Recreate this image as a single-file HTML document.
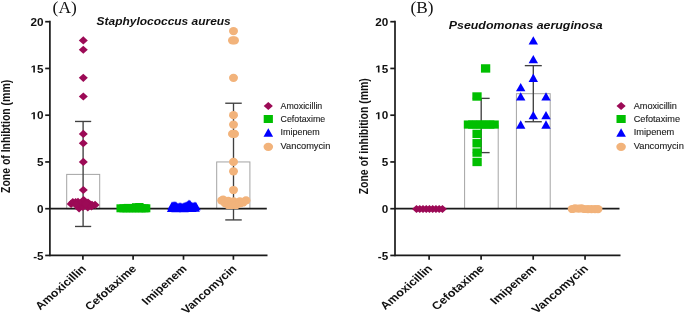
<!DOCTYPE html>
<html><head><meta charset="utf-8"><style>
html,body{margin:0;padding:0;background:#fff;}
svg{display:block;filter:blur(0.3px);}
</style></head><body>
<svg width="685" height="314" viewBox="0 0 685 314">
<rect width="685" height="314" fill="#fff"/>
<rect x="66.70" y="174.39" width="33.00" height="34.31" fill="none" stroke="#a4a4a4" stroke-width="1"/>
<rect x="216.70" y="161.95" width="33.20" height="46.75" fill="none" stroke="#a4a4a4" stroke-width="1"/>
<rect x="464.60" y="125.48" width="33.60" height="83.22" fill="none" stroke="#a4a4a4" stroke-width="1"/>
<rect x="516.40" y="93.69" width="33.80" height="115.00" fill="none" stroke="#a4a4a4" stroke-width="1"/>
<line x1="49.90" y1="20.85" x2="49.90" y2="256.30" stroke="#1a1a1a" stroke-width="1.7"/>
<line x1="45.20" y1="21.70" x2="49.90" y2="21.70" stroke="#1a1a1a" stroke-width="1.7"/>
<text transform="translate(43.60,25.80) scale(1.150,1)" font-family="Liberation Sans, sans-serif" font-size="10.2" font-weight="bold" font-style="normal" text-anchor="end" dominant-baseline="auto" fill="#111">20</text>
<line x1="45.20" y1="68.45" x2="49.90" y2="68.45" stroke="#1a1a1a" stroke-width="1.7"/>
<text transform="translate(43.60,72.55) scale(1.150,1)" font-family="Liberation Sans, sans-serif" font-size="10.2" font-weight="bold" font-style="normal" text-anchor="end" dominant-baseline="auto" fill="#111">5</text>
<path transform="translate(43.60,72.55) scale(1.15,1) translate(-11.346,0) scale(0.00498,-0.00498)" d="M478 0V1170L140 959V1180L493 1409H759V0Z" fill="#111"/>
<line x1="45.20" y1="115.20" x2="49.90" y2="115.20" stroke="#1a1a1a" stroke-width="1.7"/>
<text transform="translate(43.60,119.30) scale(1.150,1)" font-family="Liberation Sans, sans-serif" font-size="10.2" font-weight="bold" font-style="normal" text-anchor="end" dominant-baseline="auto" fill="#111">0</text>
<path transform="translate(43.60,119.30) scale(1.15,1) translate(-11.346,0) scale(0.00498,-0.00498)" d="M478 0V1170L140 959V1180L493 1409H759V0Z" fill="#111"/>
<line x1="45.20" y1="161.95" x2="49.90" y2="161.95" stroke="#1a1a1a" stroke-width="1.7"/>
<text transform="translate(43.60,166.05) scale(1.150,1)" font-family="Liberation Sans, sans-serif" font-size="10.2" font-weight="bold" font-style="normal" text-anchor="end" dominant-baseline="auto" fill="#111">5</text>
<line x1="45.20" y1="208.70" x2="49.90" y2="208.70" stroke="#1a1a1a" stroke-width="1.7"/>
<text transform="translate(43.60,212.80) scale(1.150,1)" font-family="Liberation Sans, sans-serif" font-size="10.2" font-weight="bold" font-style="normal" text-anchor="end" dominant-baseline="auto" fill="#111">0</text>
<line x1="45.20" y1="255.45" x2="49.90" y2="255.45" stroke="#1a1a1a" stroke-width="1.7"/>
<text transform="translate(43.60,259.55) scale(1.150,1)" font-family="Liberation Sans, sans-serif" font-size="10.2" font-weight="bold" font-style="normal" text-anchor="end" dominant-baseline="auto" fill="#111">-5</text>
<line x1="49.90" y1="208.70" x2="266.80" y2="208.70" stroke="#1a1a1a" stroke-width="1.7"/>
<line x1="49.90" y1="255.45" x2="267.50" y2="255.45" stroke="#1a1a1a" stroke-width="1.7"/>
<line x1="82.90" y1="255.45" x2="82.90" y2="259.75" stroke="#1a1a1a" stroke-width="1.7"/>
<text transform="translate(86.95,269.45) scale(1.136,1) rotate(-45)" font-family="Liberation Sans, sans-serif" font-size="10.9" font-weight="bold" font-style="normal" text-anchor="end" dominant-baseline="auto" fill="#111">Amoxicillin</text>
<line x1="133.10" y1="255.45" x2="133.10" y2="259.75" stroke="#1a1a1a" stroke-width="1.7"/>
<text transform="translate(137.15,269.45) scale(1.136,1) rotate(-45)" font-family="Liberation Sans, sans-serif" font-size="10.9" font-weight="bold" font-style="normal" text-anchor="end" dominant-baseline="auto" fill="#111">Cefotaxime</text>
<line x1="183.50" y1="255.45" x2="183.50" y2="259.75" stroke="#1a1a1a" stroke-width="1.7"/>
<text transform="translate(187.55,269.45) scale(1.136,1) rotate(-45)" font-family="Liberation Sans, sans-serif" font-size="10.9" font-weight="bold" font-style="normal" text-anchor="end" dominant-baseline="auto" fill="#111">Imipenem</text>
<line x1="233.40" y1="255.45" x2="233.40" y2="259.75" stroke="#1a1a1a" stroke-width="1.7"/>
<text transform="translate(237.45,269.45) scale(1.136,1) rotate(-45)" font-family="Liberation Sans, sans-serif" font-size="10.9" font-weight="bold" font-style="normal" text-anchor="end" dominant-baseline="auto" fill="#111">Vancomycin</text>
<text transform="translate(10.00,136.40) scale(1.150,1) rotate(-90)" font-family="Liberation Sans, sans-serif" font-size="10.45" font-weight="bold" font-style="normal" text-anchor="middle" dominant-baseline="auto" fill="#111">Zone of Inhibtion (mm)</text>
<text transform="translate(280.60,108.60) scale(0.980,1)" font-family="Liberation Sans, sans-serif" font-size="9.0" font-weight="normal" font-style="normal" text-anchor="start" dominant-baseline="auto" fill="#1a1a1a" stroke="#1a1a1a" stroke-width="0.12">Amoxicillin</text>
<text transform="translate(280.60,121.60) scale(0.980,1)" font-family="Liberation Sans, sans-serif" font-size="9.0" font-weight="normal" font-style="normal" text-anchor="start" dominant-baseline="auto" fill="#1a1a1a" stroke="#1a1a1a" stroke-width="0.12">Cefotaxime</text>
<text transform="translate(280.60,135.10) scale(0.992,1)" font-family="Liberation Sans, sans-serif" font-size="9.0" font-weight="normal" font-style="normal" text-anchor="start" dominant-baseline="auto" fill="#1a1a1a" stroke="#1a1a1a" stroke-width="0.12">Imipenem</text>
<text transform="translate(280.60,149.40) scale(1.029,1)" font-family="Liberation Sans, sans-serif" font-size="9.0" font-weight="normal" font-style="normal" text-anchor="start" dominant-baseline="auto" fill="#1a1a1a" stroke="#1a1a1a" stroke-width="0.12">Vancomycin</text>
<line x1="395.00" y1="20.85" x2="395.00" y2="256.30" stroke="#1a1a1a" stroke-width="1.7"/>
<line x1="390.30" y1="21.70" x2="395.00" y2="21.70" stroke="#1a1a1a" stroke-width="1.7"/>
<text transform="translate(388.20,25.80) scale(1.150,1)" font-family="Liberation Sans, sans-serif" font-size="10.2" font-weight="bold" font-style="normal" text-anchor="end" dominant-baseline="auto" fill="#111">20</text>
<line x1="390.30" y1="68.45" x2="395.00" y2="68.45" stroke="#1a1a1a" stroke-width="1.7"/>
<text transform="translate(388.20,72.55) scale(1.150,1)" font-family="Liberation Sans, sans-serif" font-size="10.2" font-weight="bold" font-style="normal" text-anchor="end" dominant-baseline="auto" fill="#111">5</text>
<path transform="translate(388.20,72.55) scale(1.15,1) translate(-11.346,0) scale(0.00498,-0.00498)" d="M478 0V1170L140 959V1180L493 1409H759V0Z" fill="#111"/>
<line x1="390.30" y1="115.20" x2="395.00" y2="115.20" stroke="#1a1a1a" stroke-width="1.7"/>
<text transform="translate(388.20,119.30) scale(1.150,1)" font-family="Liberation Sans, sans-serif" font-size="10.2" font-weight="bold" font-style="normal" text-anchor="end" dominant-baseline="auto" fill="#111">0</text>
<path transform="translate(388.20,119.30) scale(1.15,1) translate(-11.346,0) scale(0.00498,-0.00498)" d="M478 0V1170L140 959V1180L493 1409H759V0Z" fill="#111"/>
<line x1="390.30" y1="161.95" x2="395.00" y2="161.95" stroke="#1a1a1a" stroke-width="1.7"/>
<text transform="translate(388.20,166.05) scale(1.150,1)" font-family="Liberation Sans, sans-serif" font-size="10.2" font-weight="bold" font-style="normal" text-anchor="end" dominant-baseline="auto" fill="#111">5</text>
<line x1="390.30" y1="208.70" x2="395.00" y2="208.70" stroke="#1a1a1a" stroke-width="1.7"/>
<text transform="translate(388.20,212.80) scale(1.150,1)" font-family="Liberation Sans, sans-serif" font-size="10.2" font-weight="bold" font-style="normal" text-anchor="end" dominant-baseline="auto" fill="#111">0</text>
<line x1="390.30" y1="255.45" x2="395.00" y2="255.45" stroke="#1a1a1a" stroke-width="1.7"/>
<text transform="translate(388.20,259.55) scale(1.150,1)" font-family="Liberation Sans, sans-serif" font-size="10.2" font-weight="bold" font-style="normal" text-anchor="end" dominant-baseline="auto" fill="#111">-5</text>
<line x1="395.00" y1="208.70" x2="619.50" y2="208.70" stroke="#1a1a1a" stroke-width="1.7"/>
<line x1="395.00" y1="255.45" x2="620.50" y2="255.45" stroke="#1a1a1a" stroke-width="1.7"/>
<line x1="429.10" y1="255.45" x2="429.10" y2="259.75" stroke="#1a1a1a" stroke-width="1.7"/>
<text transform="translate(433.10,269.30) scale(1.168,1) rotate(-45)" font-family="Liberation Sans, sans-serif" font-size="10.87" font-weight="bold" font-style="normal" text-anchor="end" dominant-baseline="auto" fill="#111">Amoxicillin</text>
<line x1="481.10" y1="255.45" x2="481.10" y2="259.75" stroke="#1a1a1a" stroke-width="1.7"/>
<text transform="translate(485.10,269.30) scale(1.168,1) rotate(-45)" font-family="Liberation Sans, sans-serif" font-size="10.87" font-weight="bold" font-style="normal" text-anchor="end" dominant-baseline="auto" fill="#111">Cefotaxime</text>
<line x1="533.20" y1="255.45" x2="533.20" y2="259.75" stroke="#1a1a1a" stroke-width="1.7"/>
<text transform="translate(537.20,269.30) scale(1.168,1) rotate(-45)" font-family="Liberation Sans, sans-serif" font-size="10.87" font-weight="bold" font-style="normal" text-anchor="end" dominant-baseline="auto" fill="#111">Imipenem</text>
<line x1="585.05" y1="255.45" x2="585.05" y2="259.75" stroke="#1a1a1a" stroke-width="1.7"/>
<text transform="translate(589.05,269.30) scale(1.168,1) rotate(-45)" font-family="Liberation Sans, sans-serif" font-size="10.87" font-weight="bold" font-style="normal" text-anchor="end" dominant-baseline="auto" fill="#111">Vancomycin</text>
<text transform="translate(368.00,136.30) scale(1.200,1) rotate(-90)" font-family="Liberation Sans, sans-serif" font-size="10.45" font-weight="bold" font-style="normal" text-anchor="middle" dominant-baseline="auto" fill="#111">Zone of inhibition (mm)</text>
<text transform="translate(633.70,108.60) scale(0.975,1)" font-family="Liberation Sans, sans-serif" font-size="9.4" font-weight="normal" font-style="normal" text-anchor="start" dominant-baseline="auto" fill="#1a1a1a" stroke="#1a1a1a" stroke-width="0.12">Amoxicillin</text>
<text transform="translate(633.70,121.60) scale(0.975,1)" font-family="Liberation Sans, sans-serif" font-size="9.4" font-weight="normal" font-style="normal" text-anchor="start" dominant-baseline="auto" fill="#1a1a1a" stroke="#1a1a1a" stroke-width="0.12">Cefotaxime</text>
<text transform="translate(633.70,135.10) scale(0.985,1)" font-family="Liberation Sans, sans-serif" font-size="9.4" font-weight="normal" font-style="normal" text-anchor="start" dominant-baseline="auto" fill="#1a1a1a" stroke="#1a1a1a" stroke-width="0.12">Imipenem</text>
<text transform="translate(633.70,149.40) scale(0.994,1)" font-family="Liberation Sans, sans-serif" font-size="9.4" font-weight="normal" font-style="normal" text-anchor="start" dominant-baseline="auto" fill="#1a1a1a" stroke="#1a1a1a" stroke-width="0.12">Vancomycin</text>
<text transform="translate(52.60,12.50) scale(0.990,1)" font-family="Liberation Serif, serif" font-size="17.6" font-weight="normal" font-style="normal" text-anchor="start" dominant-baseline="auto" fill="#111">(A)</text>
<text transform="translate(410.50,12.80) scale(0.990,1)" font-family="Liberation Serif, serif" font-size="17.4" font-weight="normal" font-style="normal" text-anchor="start" dominant-baseline="auto" fill="#111">(B)</text>
<text transform="translate(96.60,25.40) scale(1.067,1)" font-family="Liberation Sans, sans-serif" font-size="11.2" font-weight="bold" font-style="italic" text-anchor="start" dominant-baseline="auto" fill="#111">Staphylococcus aureus</text>
<text transform="translate(448.80,28.90) scale(1.162,1)" font-family="Liberation Sans, sans-serif" font-size="10.65" font-weight="bold" font-style="italic" text-anchor="start" dominant-baseline="auto" fill="#111">Pseudomonas aeruginosa</text>
<line x1="83.10" y1="121.46" x2="83.10" y2="226.46" stroke="#404040" stroke-width="1.35"/>
<line x1="75.00" y1="121.46" x2="91.20" y2="121.46" stroke="#404040" stroke-width="1.35"/>
<line x1="75.00" y1="226.46" x2="91.20" y2="226.46" stroke="#404040" stroke-width="1.35"/>
<line x1="233.50" y1="103.23" x2="233.50" y2="219.92" stroke="#404040" stroke-width="1.35"/>
<line x1="225.25" y1="103.23" x2="241.75" y2="103.23" stroke="#404040" stroke-width="1.35"/>
<line x1="225.25" y1="219.92" x2="241.75" y2="219.92" stroke="#404040" stroke-width="1.35"/>
<line x1="481.20" y1="98.37" x2="481.20" y2="152.60" stroke="#404040" stroke-width="1.35"/>
<line x1="472.75" y1="98.37" x2="489.65" y2="98.37" stroke="#404040" stroke-width="1.35"/>
<line x1="472.75" y1="152.60" x2="489.65" y2="152.60" stroke="#404040" stroke-width="1.35"/>
<line x1="533.30" y1="65.64" x2="533.30" y2="121.74" stroke="#404040" stroke-width="1.35"/>
<line x1="524.80" y1="65.64" x2="541.80" y2="65.64" stroke="#404040" stroke-width="1.35"/>
<line x1="524.80" y1="121.74" x2="541.80" y2="121.74" stroke="#404040" stroke-width="1.35"/>
<path d="M78.80 40.40L83.30 36.30L87.80 40.40L83.30 44.50Z" fill="#9c0a56"/>
<path d="M78.80 49.75L83.30 45.65L87.80 49.75L83.30 53.85Z" fill="#9c0a56"/>
<path d="M78.80 77.80L83.30 73.70L87.80 77.80L83.30 81.90Z" fill="#9c0a56"/>
<path d="M78.80 96.50L83.30 92.40L87.80 96.50L83.30 100.60Z" fill="#9c0a56"/>
<path d="M78.80 133.90L83.30 129.80L87.80 133.90L83.30 138.00Z" fill="#9c0a56"/>
<path d="M78.80 143.25L83.30 139.15L87.80 143.25L83.30 147.35Z" fill="#9c0a56"/>
<path d="M78.80 161.95L83.30 157.85L87.80 161.95L83.30 166.05Z" fill="#9c0a56"/>
<path d="M78.80 190.00L83.30 185.90L87.80 190.00L83.30 194.10Z" fill="#9c0a56"/>
<path d="M66.60 203.90L71.10 199.80L75.60 203.90L71.10 208.00Z" fill="#9c0a56"/>
<path d="M68.30 202.20L72.80 198.10L77.30 202.20L72.80 206.30Z" fill="#9c0a56"/>
<path d="M71.10 202.20L75.60 198.10L80.10 202.20L75.60 206.30Z" fill="#9c0a56"/>
<path d="M73.50 201.90L78.00 197.80L82.50 201.90L78.00 206.00Z" fill="#9c0a56"/>
<path d="M79.10 200.10L83.60 196.00L88.10 200.10L83.60 204.20Z" fill="#9c0a56"/>
<path d="M83.50 202.50L88.00 198.40L92.50 202.50L88.00 206.60Z" fill="#9c0a56"/>
<path d="M87.50 204.80L92.00 200.70L96.50 204.80L92.00 208.90Z" fill="#9c0a56"/>
<path d="M90.60 204.90L95.10 200.80L99.60 204.90L95.10 209.00Z" fill="#9c0a56"/>
<path d="M74.60 208.30L79.10 204.20L83.60 208.30L79.10 212.40Z" fill="#9c0a56"/>
<path d="M78.40 206.90L82.90 202.80L87.40 206.90L82.90 211.00Z" fill="#9c0a56"/>
<path d="M83.30 207.30L87.80 203.20L92.30 207.30L87.80 211.40Z" fill="#9c0a56"/>
<path d="M75.50 203.50L80.00 199.40L84.50 203.50L80.00 207.60Z" fill="#9c0a56"/>
<path d="M79.50 203.50L84.00 199.40L88.50 203.50L84.00 207.60Z" fill="#9c0a56"/>
<path d="M71.50 205.00L76.00 200.90L80.50 205.00L76.00 209.10Z" fill="#9c0a56"/>
<path d="M85.50 204.50L90.00 200.40L94.50 204.50L90.00 208.60Z" fill="#9c0a56"/>
<path d="M81.50 204.00L86.00 199.90L90.50 204.00L86.00 208.10Z" fill="#9c0a56"/>
<path d="M87.00 206.50L91.50 202.40L96.00 206.50L91.50 210.60Z" fill="#9c0a56"/>
<rect x="116.45" y="204.30" width="8.30" height="8.00" fill="#00bf00"/>
<rect x="119.35" y="204.30" width="8.30" height="8.00" fill="#00bf00"/>
<rect x="122.35" y="204.30" width="8.30" height="8.00" fill="#00bf00"/>
<rect x="125.35" y="204.30" width="8.30" height="8.00" fill="#00bf00"/>
<rect x="128.35" y="204.30" width="8.30" height="8.00" fill="#00bf00"/>
<rect x="131.35" y="204.30" width="8.30" height="8.00" fill="#00bf00"/>
<rect x="134.35" y="204.30" width="8.30" height="8.00" fill="#00bf00"/>
<rect x="137.35" y="204.30" width="8.30" height="8.00" fill="#00bf00"/>
<rect x="140.35" y="204.30" width="8.30" height="8.00" fill="#00bf00"/>
<rect x="142.05" y="204.30" width="8.30" height="8.00" fill="#00bf00"/>
<rect x="131.95" y="203.20" width="8.30" height="8.00" fill="#00bf00"/>
<rect x="135.25" y="203.00" width="8.30" height="8.00" fill="#00bf00"/>
<rect x="123.85" y="203.90" width="8.30" height="8.00" fill="#00bf00"/>
<path d="M167.30 209.90L172.00 201.60L176.70 209.90Z" fill="#0000ff"/>
<path d="M168.30 209.70L173.00 201.40L177.70 209.70Z" fill="#0000ff"/>
<path d="M169.30 209.60L174.00 201.30L178.70 209.60Z" fill="#0000ff"/>
<path d="M170.30 209.60L175.00 201.30L179.70 209.60Z" fill="#0000ff"/>
<path d="M171.30 209.80L176.00 201.50L180.70 209.80Z" fill="#0000ff"/>
<path d="M172.30 210.70L177.00 202.40L181.70 210.70Z" fill="#0000ff"/>
<path d="M173.30 211.30L178.00 203.00L182.70 211.30Z" fill="#0000ff"/>
<path d="M174.30 210.90L179.00 202.60L183.70 210.90Z" fill="#0000ff"/>
<path d="M175.30 210.50L180.00 202.20L184.70 210.50Z" fill="#0000ff"/>
<path d="M176.30 210.80L181.00 202.50L185.70 210.80Z" fill="#0000ff"/>
<path d="M177.30 211.20L182.00 202.90L186.70 211.20Z" fill="#0000ff"/>
<path d="M178.30 211.00L183.00 202.70L187.70 211.00Z" fill="#0000ff"/>
<path d="M179.30 210.60L184.00 202.30L188.70 210.60Z" fill="#0000ff"/>
<path d="M180.30 210.30L185.00 202.00L189.70 210.30Z" fill="#0000ff"/>
<path d="M181.30 209.90L186.00 201.60L190.70 209.90Z" fill="#0000ff"/>
<path d="M182.30 209.60L187.00 201.30L191.70 209.60Z" fill="#0000ff"/>
<path d="M183.30 208.80L188.00 200.50L192.70 208.80Z" fill="#0000ff"/>
<path d="M184.30 207.90L189.00 199.60L193.70 207.90Z" fill="#0000ff"/>
<path d="M185.30 208.30L190.00 200.00L194.70 208.30Z" fill="#0000ff"/>
<path d="M186.30 209.70L191.00 201.40L195.70 209.70Z" fill="#0000ff"/>
<path d="M187.30 210.40L192.00 202.10L196.70 210.40Z" fill="#0000ff"/>
<path d="M188.30 210.60L193.00 202.30L197.70 210.60Z" fill="#0000ff"/>
<path d="M189.30 210.30L194.00 202.00L198.70 210.30Z" fill="#0000ff"/>
<path d="M190.30 209.90L195.00 201.60L199.70 209.90Z" fill="#0000ff"/>
<path d="M191.30 210.30L196.00 202.00L200.70 210.30Z" fill="#0000ff"/>
<path d="M166.90 211.90L171.60 203.60L176.30 211.90Z" fill="#0000ff"/>
<path d="M171.30 212.20L176.00 203.90L180.70 212.20Z" fill="#0000ff"/>
<path d="M175.30 212.10L180.00 203.80L184.70 212.10Z" fill="#0000ff"/>
<path d="M179.30 212.20L184.00 203.90L188.70 212.20Z" fill="#0000ff"/>
<path d="M183.30 212.10L188.00 203.80L192.70 212.10Z" fill="#0000ff"/>
<path d="M187.30 211.90L192.00 203.60L196.70 211.90Z" fill="#0000ff"/>
<path d="M190.50 211.70L195.20 203.40L199.90 211.70Z" fill="#0000ff"/>
<ellipse cx="233.50" cy="31.05" rx="4.50" ry="4.10" fill="#f2b37b"/>
<ellipse cx="233.50" cy="77.80" rx="4.50" ry="4.10" fill="#f2b37b"/>
<ellipse cx="233.50" cy="115.20" rx="4.50" ry="4.10" fill="#f2b37b"/>
<ellipse cx="233.50" cy="124.55" rx="4.50" ry="4.10" fill="#f2b37b"/>
<ellipse cx="233.50" cy="161.95" rx="4.50" ry="4.10" fill="#f2b37b"/>
<ellipse cx="233.50" cy="171.30" rx="4.50" ry="4.10" fill="#f2b37b"/>
<ellipse cx="233.50" cy="190.00" rx="4.50" ry="4.10" fill="#f2b37b"/>
<ellipse cx="232.50" cy="40.40" rx="4.50" ry="4.10" fill="#f2b37b"/>
<ellipse cx="234.50" cy="40.40" rx="4.50" ry="4.10" fill="#f2b37b"/>
<ellipse cx="232.50" cy="133.90" rx="4.50" ry="4.10" fill="#f2b37b"/>
<ellipse cx="234.50" cy="133.90" rx="4.50" ry="4.10" fill="#f2b37b"/>
<ellipse cx="221.70" cy="200.50" rx="4.50" ry="4.10" fill="#f2b37b"/>
<ellipse cx="223.10" cy="199.60" rx="4.50" ry="4.10" fill="#f2b37b"/>
<ellipse cx="228.30" cy="200.90" rx="4.50" ry="4.10" fill="#f2b37b"/>
<ellipse cx="233.60" cy="201.40" rx="4.50" ry="4.10" fill="#f2b37b"/>
<ellipse cx="239.80" cy="201.40" rx="4.50" ry="4.10" fill="#f2b37b"/>
<ellipse cx="246.00" cy="200.40" rx="4.50" ry="4.10" fill="#f2b37b"/>
<ellipse cx="225.00" cy="203.00" rx="4.50" ry="4.10" fill="#f2b37b"/>
<ellipse cx="228.30" cy="205.00" rx="4.50" ry="4.10" fill="#f2b37b"/>
<ellipse cx="232.00" cy="205.00" rx="4.50" ry="4.10" fill="#f2b37b"/>
<ellipse cx="236.00" cy="205.00" rx="4.50" ry="4.10" fill="#f2b37b"/>
<ellipse cx="240.00" cy="203.40" rx="4.50" ry="4.10" fill="#f2b37b"/>
<ellipse cx="243.00" cy="202.50" rx="4.50" ry="4.10" fill="#f2b37b"/>
<path d="M263.70 106.00L268.30 102.00L272.90 106.00L268.30 110.00Z" fill="#9c0a56"/>
<rect x="263.70" y="115.00" width="9.20" height="8.00" fill="#00bf00"/>
<path d="M263.50 136.70L268.30 128.30L273.10 136.70Z" fill="#0000ff"/>
<ellipse cx="268.30" cy="146.80" rx="4.80" ry="4.10" fill="#f2b37b"/>
<path d="M412.00 209.00L416.50 204.90L421.00 209.00L416.50 213.10Z" fill="#9c0a56"/>
<path d="M415.24 209.00L419.74 204.90L424.24 209.00L419.74 213.10Z" fill="#9c0a56"/>
<path d="M418.48 209.00L422.98 204.90L427.48 209.00L422.98 213.10Z" fill="#9c0a56"/>
<path d="M421.72 209.00L426.22 204.90L430.72 209.00L426.22 213.10Z" fill="#9c0a56"/>
<path d="M424.96 209.00L429.46 204.90L433.96 209.00L429.46 213.10Z" fill="#9c0a56"/>
<path d="M428.20 209.00L432.70 204.90L437.20 209.00L432.70 213.10Z" fill="#9c0a56"/>
<path d="M431.44 209.00L435.94 204.90L440.44 209.00L435.94 213.10Z" fill="#9c0a56"/>
<path d="M434.68 209.00L439.18 204.90L443.68 209.00L439.18 213.10Z" fill="#9c0a56"/>
<path d="M437.92 209.00L442.42 204.90L446.92 209.00L442.42 213.10Z" fill="#9c0a56"/>
<rect x="480.95" y="64.25" width="9.30" height="8.40" fill="#00bf00"/>
<rect x="472.35" y="92.30" width="9.30" height="8.40" fill="#00bf00"/>
<rect x="472.45" y="129.70" width="9.30" height="8.40" fill="#00bf00"/>
<rect x="472.45" y="139.05" width="9.30" height="8.40" fill="#00bf00"/>
<rect x="472.45" y="148.40" width="9.30" height="8.40" fill="#00bf00"/>
<rect x="472.45" y="157.75" width="9.30" height="8.40" fill="#00bf00"/>
<rect x="463.80" y="120.45" width="9.00" height="8.20" fill="#00bf00"/>
<rect x="468.10" y="120.45" width="9.00" height="8.20" fill="#00bf00"/>
<rect x="472.40" y="120.45" width="9.00" height="8.20" fill="#00bf00"/>
<rect x="476.70" y="120.45" width="9.00" height="8.20" fill="#00bf00"/>
<rect x="481.10" y="120.45" width="9.00" height="8.20" fill="#00bf00"/>
<rect x="485.40" y="120.45" width="9.00" height="8.20" fill="#00bf00"/>
<rect x="489.80" y="120.45" width="9.00" height="8.20" fill="#00bf00"/>
<path d="M528.60 44.50L533.30 36.20L538.00 44.50Z" fill="#0000ff"/>
<path d="M528.60 63.20L533.30 54.90L538.00 63.20Z" fill="#0000ff"/>
<path d="M528.60 81.90L533.30 73.60L538.00 81.90Z" fill="#0000ff"/>
<path d="M516.00 91.25L520.70 82.95L525.40 91.25Z" fill="#0000ff"/>
<path d="M516.00 100.60L520.70 92.30L525.40 100.60Z" fill="#0000ff"/>
<path d="M541.30 100.60L546.00 92.30L550.70 100.60Z" fill="#0000ff"/>
<path d="M528.60 119.30L533.30 111.00L538.00 119.30Z" fill="#0000ff"/>
<path d="M541.30 119.30L546.00 111.00L550.70 119.30Z" fill="#0000ff"/>
<path d="M516.00 128.65L520.70 120.35L525.40 128.65Z" fill="#0000ff"/>
<path d="M541.30 128.65L546.00 120.35L550.70 128.65Z" fill="#0000ff"/>
<ellipse cx="572.20" cy="209.00" rx="4.50" ry="4.10" fill="#f2b37b"/>
<ellipse cx="575.00" cy="208.30" rx="4.50" ry="4.10" fill="#f2b37b"/>
<ellipse cx="578.50" cy="208.70" rx="4.50" ry="4.10" fill="#f2b37b"/>
<ellipse cx="581.50" cy="208.30" rx="4.50" ry="4.10" fill="#f2b37b"/>
<ellipse cx="584.50" cy="209.00" rx="4.50" ry="4.10" fill="#f2b37b"/>
<ellipse cx="588.00" cy="209.10" rx="4.50" ry="4.10" fill="#f2b37b"/>
<ellipse cx="591.50" cy="209.10" rx="4.50" ry="4.10" fill="#f2b37b"/>
<ellipse cx="595.00" cy="209.10" rx="4.50" ry="4.10" fill="#f2b37b"/>
<ellipse cx="598.00" cy="209.10" rx="4.50" ry="4.10" fill="#f2b37b"/>
<path d="M616.50 106.00L621.10 102.00L625.70 106.00L621.10 110.00Z" fill="#9c0a56"/>
<rect x="616.50" y="115.00" width="9.20" height="8.00" fill="#00bf00"/>
<path d="M616.30 136.70L621.10 128.30L625.90 136.70Z" fill="#0000ff"/>
<ellipse cx="621.10" cy="146.80" rx="4.80" ry="4.10" fill="#f2b37b"/>
</svg>
</body></html>
